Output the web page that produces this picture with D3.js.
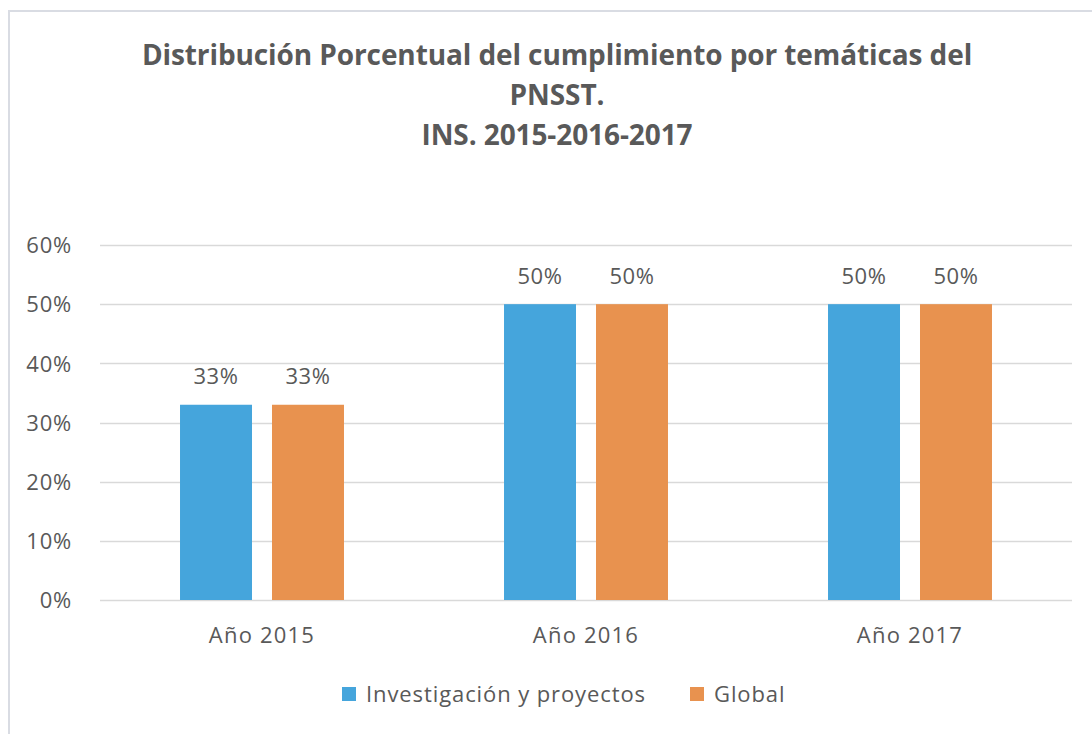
<!DOCTYPE html>
<html>
<head>
<meta charset="utf-8">
<script src="https://cdn.jsdelivr.net/npm/d3@7"></script>
<style>
  html, body { margin: 0; padding: 0; background: #fff; }
  svg { display: block; font-family: "Open Sans", sans-serif; }
</style>
</head>
<body>
<div id="chart"></div>
<script>
const categories = ["Año 2015", "Año 2016", "Año 2017"];
const seriesNames = ["Investigación y proyectos", "Global"];
const investigacion = [0.33, 0.50, 0.50];
const global = [0.33, 0.50, 0.50];
const yTicks = [0, 0.1, 0.2, 0.3, 0.4, 0.5, 0.6];
const titleLines = [
  "Distribución Porcentual del cumplimiento por temáticas del",
  "PNSST.",
  "INS. 2015-2016-2017"
];
const colors = ["#45a5dc", "#e8924f"];

const width = 1092, height = 734;
const margin = { top: 245, right: 20, bottom: 134, left: 100 };
const font = "'Open Sans', sans-serif";
const textColor = "#595959";

const svg = d3.select("#chart").append("svg")
  .attr("width", width)
  .attr("height", height);

// chart frame
svg.append("rect")
  .attr("x", 9).attr("y", 11)
  .attr("width", width + 10).attr("height", height + 10)
  .attr("fill", "#fff")
  .attr("stroke", "#d9dce3")
  .attr("stroke-width", 2);

// ── Title ──
svg.append("g")
  .selectAll("text")
  .data(titleLines)
  .join("text")
  .attr("x", 557)
  .attr("y", (d, i) => 65 + i * 40)
  .attr("text-anchor", "middle")
  .attr("fill", textColor)
  .attr("font-size", "28px")
  .attr("font-weight", "700")
  .attr("letter-spacing", "-0.1px")
  .text(d => d);

const x0 = d3.scaleBand()
  .domain(categories)
  .range([margin.left, 1072]);

const x1 = d3.scaleBand()
  .domain(seriesNames)
  .range([0, x0.bandwidth()])
  .paddingInner(0.2174)
  .paddingOuter(0.87);

const y = d3.scaleLinear()
  .domain([0, 0.6])
  .range([600, 245]);

// ── Gridlines ──
svg.append("g")
  .selectAll("line")
  .data(yTicks)
  .join("line")
  .attr("x1", margin.left)
  .attr("x2", 1072)
  .attr("y1", d => Math.round(y(d)) + 0.5)
  .attr("y2", d => Math.round(y(d)) + 0.5)
  .attr("stroke", "#d9d9d9")
  .attr("stroke-width", 1.5);

// ── Y axis labels ──
const yAxis = svg.append("g")
  .attr("transform", `translate(${margin.left - 25},0)`)
  .call(d3.axisLeft(y).tickValues(yTicks).tickFormat(d3.format(".0%")).tickSize(0));
yAxis.select(".domain").remove();
yAxis.selectAll("text")
  .attr("fill", textColor)
  .attr("font-size", "22px")
  .attr("font-family", font)
  .attr("letter-spacing", "0.8px")
  .attr("dy", "0.35em");

// ── X axis labels ──
const xAxis = svg.append("g")
  .attr("transform", `translate(0,600)`)
  .call(d3.axisBottom(x0).tickSize(0));
xAxis.select(".domain").remove();
xAxis.selectAll("text")
  .attr("fill", textColor)
  .attr("font-size", "22px")
  .attr("font-family", font)
  .attr("letter-spacing", "1.2px")
  .attr("y", 35)
  .attr("dy", "0.35em");

// ── Bars ──
const rows = categories.map((c, i) => ({
  cat: c,
  values: [
    { key: seriesNames[0], v: investigacion[i], color: colors[0] },
    { key: seriesNames[1], v: global[i], color: colors[1] }
  ]
}));

const groups = svg.append("g")
  .selectAll("g")
  .data(rows)
  .join("g")
  .attr("transform", d => `translate(${x0(d.cat)},0)`);

groups.selectAll("rect")
  .data(d => d.values)
  .join("rect")
  .attr("x", d => x1(d.key))
  .attr("y", d => y(d.v))
  .attr("width", x1.bandwidth())
  .attr("height", d => y(0) - y(d.v))
  .attr("fill", d => d.color);

groups.selectAll("text")
  .data(d => d.values)
  .join("text")
  .attr("x", d => x1(d.key) + x1.bandwidth() / 2)
  .attr("y", d => y(d.v) - 28)
  .attr("dy", "0.35em")
  .attr("text-anchor", "middle")
  .attr("fill", textColor)
  .attr("font-size", "22px")
  .attr("letter-spacing", "0.6px")
  .text(d => d3.format(".0%")(d.v));

// ── Legend ──
const legendItems = [
  { label: seriesNames[0], color: colors[0], x: 342 },
  { label: seriesNames[1], color: colors[1], x: 690 }
];
const legend = svg.append("g");
legendItems.forEach(item => {
  legend.append("rect")
    .attr("x", item.x)
    .attr("y", 687)
    .attr("width", 14)
    .attr("height", 14)
    .attr("fill", item.color);
  legend.append("text")
    .attr("x", item.x + 24)
    .attr("y", 694)
    .attr("dy", "0.35em")
    .attr("fill", textColor)
    .attr("font-size", "22px")
    .attr("letter-spacing", "0.9px")
    .text(item.label);
});
</script>
</body>
</html>
